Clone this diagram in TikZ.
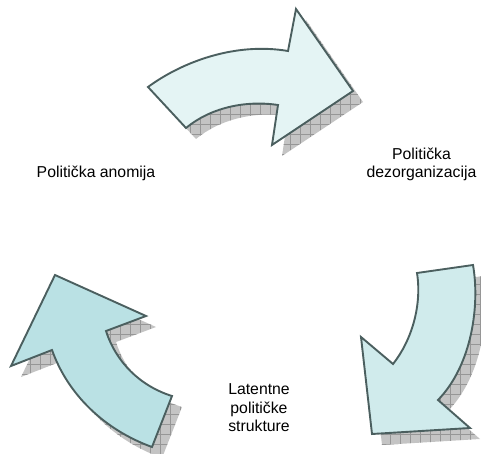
\documentclass[tikz,border=0pt]{standalone}
\usepackage{fontspec}
\setmainfont{Liberation Sans}
\usetikzlibrary{patterns.meta}
\definecolor{edgecol}{HTML}{4B5F5F}
\definecolor{topfill}{HTML}{E4F4F4}
\definecolor{rightfill}{HTML}{D0EBEC}
\definecolor{leftfill}{HTML}{BAE1E4}
\definecolor{shadowfill}{HTML}{C4C4C4}
\definecolor{shadowline}{HTML}{969696}
\tikzset{
  arrowshape/.style={draw=edgecol,line width=1.9pt,line join=miter},
  shadowshape/.style={fill=shadowfill,
    postaction={pattern={Lines[angle=0,distance=10pt,line width=0.5pt]},pattern color=shadowline},
    postaction={pattern={Lines[angle=90,distance=10pt,line width=0.5pt]},pattern color=shadowline}},
  label/.style={font=\fontsize{15.8}{18.6}\selectfont,align=center,text=black}
}
\begin{document}
\begin{tikzpicture}[x=1pt,y=-1pt]
\useasboundingbox (0,0) rectangle (481,454);
\def\toparrow{(148,87) .. controls (182,62) and (235,42) .. (288,51) -- (296,9) -- (353,91) -- (272,145) -- (278,105) .. controls (245,100) and (210,108) .. (186,128) -- cycle}
\def\rightarrow{(417,273) -- (473,265) .. controls (480,305) and (472,365) .. (438,400) -- (470,428) -- (372,434) -- (361,337) -- (393,364) .. controls (412,340) and (422,305) .. (417,273) -- cycle}
\def\leftarrowshape{(55,275) -- (146,316) -- (106,331) .. controls (116,362) and (140,386) .. (172,396) -- (152,447) .. controls (105,430) and (68,395) .. (52,350) -- (11,366) -- cycle}
% shadows
\begin{scope}[shift={(10,11)}]
\path[shadowshape] \toparrow;
\path[shadowshape] \rightarrow;
\path[shadowshape] \leftarrowshape;
\end{scope}
% arrows
\path[arrowshape,fill=topfill] \toparrow;
\path[arrowshape,fill=rightfill] \rightarrow;
\path[arrowshape,fill=leftfill] \leftarrowshape;
% labels
\node[label] (anomija) at (96,173) {Politička anomija};
\node[label] (dezorg) at (421.5,164.5) {Politička\\dezorganizacija};
\node[label] (latentne) at (259,408) {Latentne\\političke\\strukture};
\end{tikzpicture}
\end{document}
